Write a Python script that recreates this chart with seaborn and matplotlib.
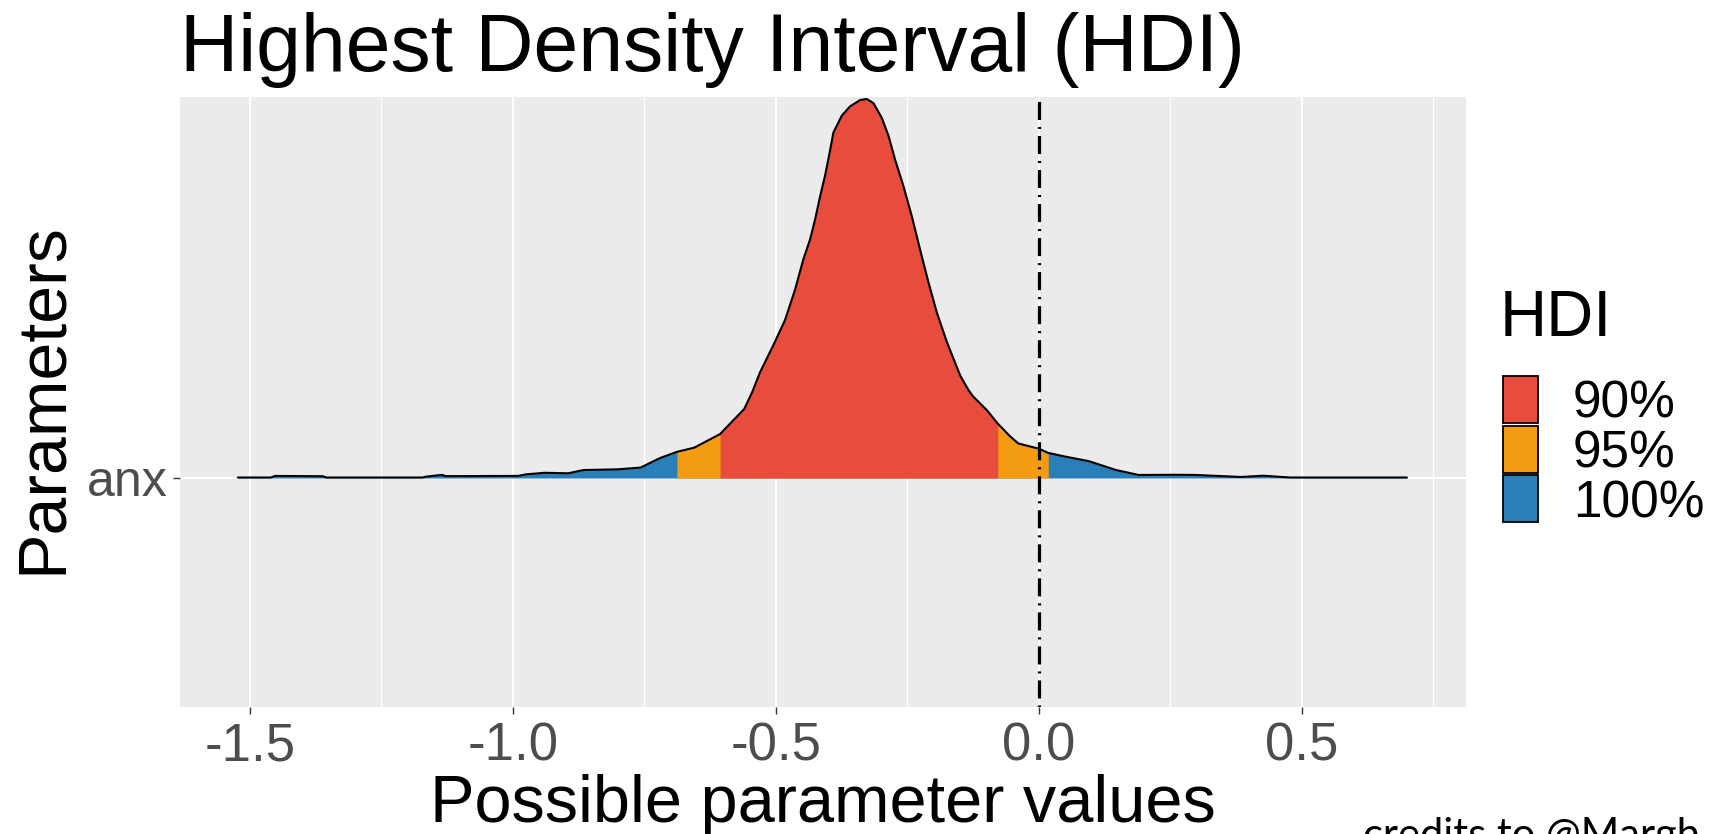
import matplotlib
matplotlib.use('Agg')
import matplotlib.pyplot as plt
from matplotlib.patches import Rectangle
from matplotlib.ticker import AutoMinorLocator
import pandas as pd
import seaborn as sns

# ----------------------------------------------------------------------------
# data read off the ridge for parameter "anx"
# ----------------------------------------------------------------------------
param_values = [-1.523, -1.46, -1.452, -1.361, -1.355, -1.172, -1.165, -1.135, -1.128,
                -0.99, -0.975, -0.939, -0.895, -0.866, -0.80, -0.757, -0.7205, -0.688,
                -0.655, -0.606, -0.56, -0.545, -0.530, -0.5046, -0.4824, -0.4634,
                -0.4476, -0.4348, -0.4253, -0.4158, -0.4063, -0.3968, -0.3905, -0.3746,
                -0.3588, -0.3397, -0.327, -0.3143, -0.2985, -0.2858, -0.2732, -0.2574,
                -0.2414, -0.2256, -0.2098, -0.1938, -0.1748, -0.1495, -0.1337, -0.125,
                -0.099, -0.078, -0.055, -0.039, 0.0, 0.018, 0.045, 0.096,
                0.147, 0.19, 0.258, 0.30, 0.385, 0.427, 0.478, 0.70]
density = [0.005, 0.005, 0.02, 0.017, 0.005, 0.005, 0.013, 0.03, 0.018,
           0.02, 0.035, 0.05, 0.045, 0.076, 0.083, 0.10, 0.19, 0.25,
           0.29, 0.42, 0.66, 0.82, 1.01, 1.27, 1.51, 1.80,
           2.09, 2.28, 2.47, 2.69, 2.89, 3.13, 3.30, 3.46,
           3.55, 3.61, 3.62, 3.58, 3.44, 3.27, 3.04, 2.79,
           2.50, 2.18, 1.87, 1.58, 1.30, 0.98, 0.84, 0.78,
           0.65, 0.52, 0.40, 0.33, 0.28, 0.24, 0.21, 0.16,
           0.076, 0.029, 0.031, 0.029, 0.01, 0.022, 0.005, 0.005]

hdi_levels = ['90%', '95%', '100%']
hdi_colors = ['#E74C3C', '#F39C12', '#2980B9']
hdi_lower = [-0.606, -0.688, -1.523]
hdi_upper = [-0.078, 0.018, 0.70]

param_name = 'anx'
x_ticks = [-1.5, -1.0, -0.5, 0.0, 0.5]
x_ticklabels = ['-1.5', '-1.0', '-0.5', '0.0', '0.5']

df = pd.DataFrame({'value': param_values, 'density': density})

# ----------------------------------------------------------------------------
# style (ggplot-ish grey panel)
# ----------------------------------------------------------------------------
sns.set_theme(style='darkgrid', rc={'axes.facecolor': '#EBEBEB', 'grid.color': 'white'})
plt.rcParams['font.family'] = ['Liberation Sans', 'DejaVu Sans']
plt.rcParams['lines.scale_dashes'] = False
plt.rcParams['text.color'] = 'black'
plt.rcParams['axes.labelcolor'] = 'black'

W, H = 1716, 834
fig = plt.figure(figsize=(W / 100, H / 100), dpi=100)
ax = fig.add_axes([180 / W, 1 - 707 / H, 1286 / W, 610 / H])

# HDI bands, widest first so narrower ones sit on top
for lo, hi, col in zip(hdi_lower[::-1], hdi_upper[::-1], hdi_colors[::-1]):
    mask = (df['value'] >= lo) & (df['value'] <= hi)
    ax.fill_between(df['value'], 0, df['density'], where=mask, color=col,
                    linewidth=0, zorder=2)

sns.lineplot(data=df, x='value', y='density', color='black', linewidth=1.5,
             estimator=None, ax=ax, zorder=3)

ax.axvline(0, color='black', linewidth=2.3, dashes=(1.5, 5, 13, 5), zorder=4)

ax.set_xlim(-1.633, 0.8124)
ax.set_ylim(-2.187, 3.639)
ax.set_xticks(x_ticks)
ax.set_xticklabels(x_ticklabels)
ax.xaxis.set_minor_locator(AutoMinorLocator(2))
ax.set_yticks([0])
ax.set_yticklabels([param_name])

ax.grid(False)
ax.grid(which='major', axis='both', color='white', linewidth=1.5, zorder=0)
ax.grid(which='minor', axis='x', color='white', linewidth=0.8, zorder=0)
ax.set_axisbelow(True)
for s in ax.spines.values():
    s.set_visible(False)

ax.tick_params(axis='both', which='major', bottom=True, left=True, length=5.3,
               width=1.0, color='#333333', labelsize=38, labelcolor='#4D4D4D', pad=5)
ax.tick_params(axis='y', pad=3.5, labelsize=36)
ax.tick_params(axis='x', which='minor', length=0)

ax.set_title('Highest Density Interval (HDI)', loc='left', fontsize=58, pad=18.7,
             color='black')
ax.set_xlabel('Possible parameter values', fontsize=48)
ax.xaxis.set_label_coords(0.5, -0.11)
ax.set_ylabel('Parameters', fontsize=49)
ax.yaxis.set_label_coords(-0.082, 0.507)

# legend, ggplot style: stacked keys with no gaps
fig.text(1500 / W, 1 - 336 / H, 'HDI', fontsize=47, va='baseline', ha='left')
for i, (lab, col) in enumerate(zip(hdi_levels, hdi_colors)):
    top = 376 + i * 49.5
    fig.add_artist(Rectangle((1503 / W, 1 - (top + 47) / H), 35 / W, 47 / H,
                             transform=fig.transFigure, facecolor=col,
                             edgecolor='black', linewidth=1.3))
    fig.text(1573 / W, 1 - (top + 42) / H, lab, fontsize=37, va='baseline', ha='left')

fig.text(1363 / W, 1 - 848 / H, 'credits to @Margh', fontsize=30,
         family=['Lato', 'DejaVu Sans'], va='baseline', ha='left')

fig.savefig('out.png', dpi=100)
